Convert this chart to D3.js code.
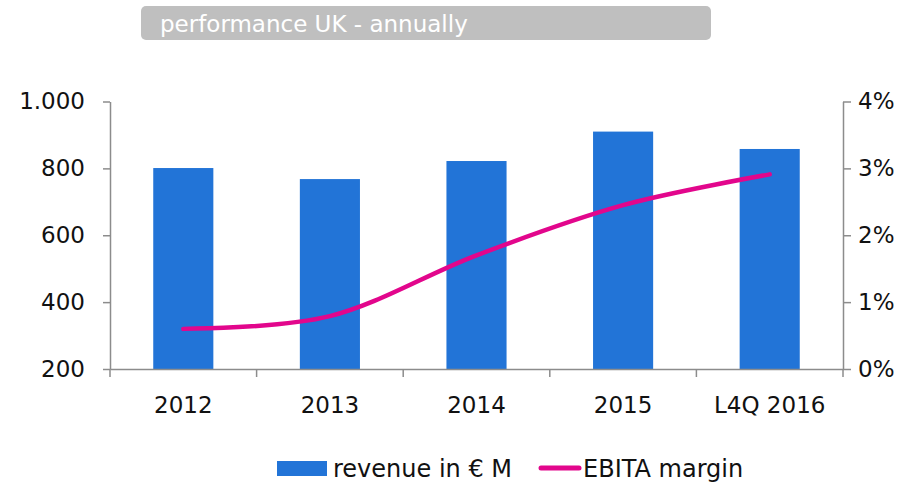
<!DOCTYPE html>
<html>
<head>
<meta charset="utf-8">
<script src="https://cdn.jsdelivr.net/npm/d3@7"></script>
<style>
    body { margin: 0; background: #fff; }
    svg text { font-family: "DejaVu Sans", Tahoma, sans-serif; fill: #111; }
</style>
</head>
<body>
<div id="chart"></div>
<script>
// chart data
var categories = ["2012", "2013", "2014", "2015", "L4Q 2016"];
var revenue = [801, 768, 822, 910, 858];          // revenue in € M
var ebitaMargin = [0.0060, 0.0079, 0.0170, 0.0245, 0.0291];
var revenueTicks = [200, 400, 600, 800, 1000];
var marginTicks = [0, 0.01, 0.02, 0.03, 0.04];

var width = 924, height = 489;
var plotLeft = 110, plotRight = 843, plotTop = 101.5, plotBottom = 369;
var blue = "#2274d7", pink = "#e2068c", axisGrey = "#8c8c8c";

var svg = d3.select("#chart")
    .append("svg")
    .attr("width", width)
    .attr("height", height);

// title box
svg.append("rect")
    .attr("x", 141).attr("y", 6)
    .attr("width", 570).attr("height", 34)
    .attr("rx", 5)
    .attr("fill", "#bfbfbf");

svg.append("text")
    .attr("x", 160).attr("y", 32)
    .attr("font-size", "23px")
    .style("fill", "#fff")
    .text("performance UK - annually");

// scales
var x = d3.scaleBand()
    .domain(categories)
    .range([plotLeft, plotRight])
    .paddingInner(0.59)
    .paddingOuter(0.295);

var xEdges = d3.scaleBand()
    .domain(categories)
    .range([plotLeft, plotRight]);

var y = d3.scaleLinear().domain([200, 1000]).range([plotBottom, plotTop]);
var y2 = d3.scaleLinear().domain([0, 0.04]).range([plotBottom, plotTop]);

// bars
svg.selectAll("rect.bar")
    .data(revenue)
    .enter()
    .append("rect")
    .attr("class", "bar")
    .attr("x", function(d, i) { return x(categories[i]); })
    .attr("y", function(d) { return y(d); })
    .attr("width", x.bandwidth())
    .attr("height", function(d) { return y(200) - y(d); })
    .attr("fill", blue);

// axes
function styleAxis(g) {
    g.select(".domain").attr("stroke", axisGrey).attr("stroke-width", 1.5);
    g.selectAll(".tick line").attr("stroke", axisGrey).attr("stroke-width", 1.5);
    g.selectAll(".tick text").attr("font-family", null).attr("font-size", null);
}

var yAxis = svg.append("g")
    .attr("transform", "translate(" + plotLeft + ",0)")
    .call(d3.axisLeft(y)
        .tickValues(revenueTicks)
        .tickSize(7)
        .tickSizeOuter(0)
        .tickPadding(18)
        .tickFormat(function(d) { return d3.format(",")(d).replace(",", "."); }))
    .call(styleAxis);
yAxis.selectAll(".tick text").style("font-size", "23px");

var y2Axis = svg.append("g")
    .attr("transform", "translate(" + plotRight + ",0)")
    .call(d3.axisRight(y2)
        .tickValues(marginTicks)
        .tickSize(8)
        .tickSizeOuter(0)
        .tickPadding(7)
        .tickFormat(d3.format(".0%")))
    .call(styleAxis);
y2Axis.selectAll(".tick text").style("font-size", "23px");

// x axis: ticks sit on category boundaries
var xAxis = svg.append("g")
    .attr("transform", "translate(0," + plotBottom + ")")
    .call(d3.axisBottom(xEdges)
        .tickSize(0)
        .tickSizeOuter(0)
        .tickPadding(28))
    .call(styleAxis);
xAxis.selectAll(".tick text").style("font-size", "23px");

var edges = categories.map(function(c) { return xEdges(c); }).concat([plotRight]);
xAxis.selectAll("line.edge")
    .data(edges)
    .enter()
    .append("line")
    .attr("class", "edge")
    .attr("x1", function(d) { return d; })
    .attr("x2", function(d) { return d; })
    .attr("y1", 0)
    .attr("y2", 8)
    .attr("stroke", axisGrey)
    .attr("stroke-width", 1.5);

// EBITA margin line
var line = d3.line()
    .x(function(d, i) { return x(categories[i]) + x.bandwidth() / 2; })
    .y(function(d) { return y2(d); })
    .curve(d3.curveCatmullRom.alpha(0));

svg.append("path")
    .datum(ebitaMargin)
    .attr("d", line)
    .attr("fill", "none")
    .attr("stroke", pink)
    .attr("stroke-width", 4.5)
    .attr("stroke-linecap", "round");

// legend
var legend = svg.append("g");
legend.append("rect")
    .attr("x", 277).attr("y", 461)
    .attr("width", 50).attr("height", 15)
    .attr("fill", blue);
legend.append("text")
    .attr("x", 333).attr("y", 477)
    .attr("font-size", "24px")
    .text("revenue in € M");
legend.append("line")
    .attr("x1", 541).attr("x2", 579)
    .attr("y1", 468).attr("y2", 468)
    .attr("stroke", pink)
    .attr("stroke-width", 5)
    .attr("stroke-linecap", "round");
legend.append("text")
    .attr("x", 583).attr("y", 477)
    .attr("font-size", "24px")
    .text("EBITA margin");
</script>
</body>
</html>
